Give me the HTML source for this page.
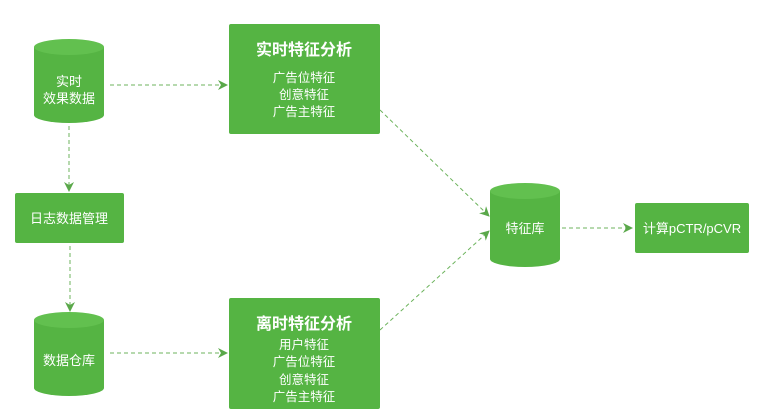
<!DOCTYPE html>
<html><head><meta charset="utf-8"><style>
body{margin:0;background:#fff;width:758px;height:415px;overflow:hidden}
svg text{font-family:"Liberation Sans","Noto Sans CJK SC",sans-serif;fill:#fff;text-anchor:middle}
</style></head><body>
<svg width="758" height="415" viewBox="0 0 758 415" xmlns="http://www.w3.org/2000/svg">
<defs><marker id="a" markerWidth="10" markerHeight="10" refX="9" refY="5" orient="auto" markerUnits="userSpaceOnUse"><path d="M0,0 L10,5 L0,10 L3,5 z" fill="#5aa84a"/></marker></defs>
<g stroke="#6cb35c" stroke-width="1" stroke-dasharray="4,3" fill="none" marker-end="url(#a)">
<line x1="110" y1="85" x2="227" y2="85"/>
<line x1="69" y1="126" x2="69" y2="191"/>
<line x1="70" y1="246" x2="70" y2="311"/>
<line x1="110" y1="353" x2="227" y2="353"/>
<line x1="380" y1="110" x2="489" y2="216"/>
<line x1="380" y1="330" x2="489" y2="231"/>
<line x1="562" y1="228" x2="632" y2="228"/>
</g>
<g fill="#55b443">
<path d="M34,47 v68 a35,8 0 0 0 70,0 v-68 z"/><ellipse cx="69" cy="47" rx="35" ry="8" fill="#62c04f"/>
<path d="M34,320 v68 a35,8 0 0 0 70,0 v-68 z"/><ellipse cx="69" cy="320" rx="35" ry="8" fill="#62c04f"/>
<path d="M490,191 v68 a35,8 0 0 0 70,0 v-68 z"/><ellipse cx="525" cy="191" rx="35" ry="8" fill="#62c04f"/>
<rect x="229" y="24" width="151" height="110" rx="2"/>
<rect x="229" y="298" width="151" height="111" rx="2"/>
<rect x="15" y="193" width="109" height="50" rx="2"/>
<rect x="635" y="203" width="114" height="50" rx="2"/>
</g>
<text x="69" y="86" font-size="13">实时</text>
<text x="69" y="103" font-size="13">效果数据</text>
<text x="69" y="365" font-size="13">数据仓库</text>
<text x="69" y="223" font-size="13">日志数据管理</text>
<text x="525" y="233" font-size="13">特征库</text>
<text x="692" y="233" font-size="13">计算pCTR/pCVR</text>
<text x="304" y="55" font-size="16" font-weight="bold">实时特征分析</text>
<text x="304" y="82" font-size="12.5">广告位特征</text>
<text x="304" y="99" font-size="12.5">创意特征</text>
<text x="304" y="116" font-size="12.5">广告主特征</text>
<text x="304" y="329" font-size="16" font-weight="bold">离时特征分析</text>
<text x="304" y="349" font-size="12.5">用户特征</text>
<text x="304" y="366" font-size="12.5">广告位特征</text>
<text x="304" y="384" font-size="12.5">创意特征</text>
<text x="304" y="401" font-size="12.5">广告主特征</text>
</svg>
</body></html>
